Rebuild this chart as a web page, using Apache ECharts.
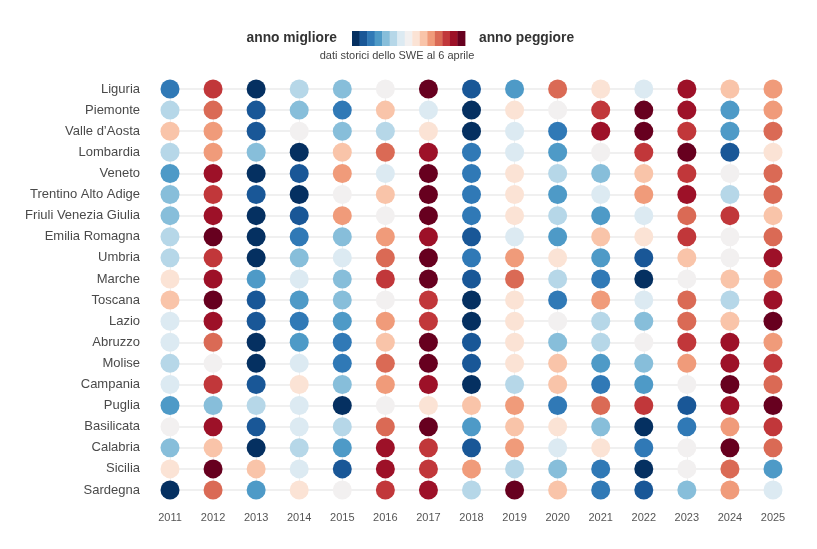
<!DOCTYPE html>
<html>
<head>
<meta charset="utf-8">
<script src="https://cdn.jsdelivr.net/npm/echarts@6/dist/echarts.min.js"></script>
<style>
html,body{margin:0;padding:0;background:#fff;}
#chart{width:817px;height:549px;}
</style>
</head>
<body>
<div id="chart"></div>
<script>
// categories
const years = ['2011','2012','2013','2014','2015','2016','2017','2018','2019','2020','2021','2022','2023','2024','2025'];
const regions = ['Liguria','Piemonte',"Valle d\u2019Aosta",'Lombardia','Veneto','Trentino Alto Adige','Friuli Venezia Giulia','Emilia Romagna','Umbria','Marche','Toscana','Lazio','Abruzzo','Molise','Campania','Puglia','Basilicata','Calabria','Sicilia','Sardegna'];
// rank of each year (1 = anno migliore, 15 = anno peggiore), years 2011..2025
const liguria    = [3,13,1,6,5,8,15,2,4,12,9,7,14,10,11];
const piemonte   = [6,12,2,5,3,10,7,1,9,8,13,15,14,4,11];
const valleAosta = [10,11,2,8,5,6,9,1,7,3,14,15,13,4,12];
const lombardia  = [6,11,5,1,10,12,14,3,7,4,8,13,15,2,9];
const veneto     = [4,14,1,2,11,7,15,3,9,6,5,10,13,8,12];
const trentino   = [5,13,2,1,8,10,15,3,9,4,7,11,14,6,12];
const friuli     = [5,14,1,2,11,8,15,3,9,6,4,7,12,13,10];
const emilia     = [6,15,1,3,5,11,14,2,7,4,10,9,13,8,12];
const umbria     = [6,13,1,5,7,12,15,3,11,9,4,2,10,8,14];
const marche     = [9,14,4,7,5,13,15,2,12,6,3,1,8,10,11];
const toscana    = [10,15,2,4,5,8,13,1,9,3,11,7,12,6,14];
const lazio      = [7,14,2,3,4,11,13,1,9,8,6,5,12,10,15];
const abruzzo    = [7,12,1,4,3,10,15,2,9,5,6,8,13,14,11];
const molise     = [6,8,1,7,3,12,15,2,9,10,4,5,11,14,13];
const campania   = [7,13,2,9,5,11,14,1,6,10,3,4,8,15,12];
const puglia     = [4,5,6,7,1,8,9,10,11,3,12,13,2,14,15];
const basilicata = [8,14,2,7,6,12,15,4,10,9,5,1,3,11,13];
const calabria   = [5,10,1,6,4,14,13,2,11,7,9,3,8,15,12];
const sicilia    = [9,15,10,7,2,14,13,11,6,5,3,1,8,12,4];
const sardegna   = [1,12,4,9,8,13,14,6,15,10,3,2,5,11,7];
const rankRows = [liguria,piemonte,valleAosta,lombardia,veneto,trentino,friuli,emilia,umbria,marche,toscana,lazio,abruzzo,molise,campania,puglia,basilicata,calabria,sicilia,sardegna];
const ranks = [1,2,3,4,5,6,7,8,9,10,11,12,13,14,15];
const legendLow = 'anno migliore';
const legendHigh = 'anno peggiore';
const subtitle = 'dati storici dello SWE al 6 aprile';

const palette = ['#053061','#195797','#3079b6','#4e9ac7','#87beda','#b6d7e8','#dceaf2','#f2f0f0','#fbe3d5','#f9c4a9','#f09b7a','#da6a55','#c1373a','#9d1128','#67001f'];

const data = [];
rankRows.forEach((row, r) => {
  row.forEach((v, y) => data.push([years[y], regions[r], v]));
});

const font = '"Liberation Sans", Arial, sans-serif';

// legend colour bar (graphic)
const barX = 352, barY = 31, stepW = 113 / ranks.length, barH = 15;
const graphics = ranks.map((v, i) => ({
  type: 'rect',
  shape: {x: barX + i * stepW, y: barY, width: stepW + 0.4, height: barH},
  style: {fill: palette[v - 1]},
  silent: true
}));
graphics.push({
  type: 'text', x: 337, y: barY + barH / 2,
  style: {text: legendLow, align: 'right', verticalAlign: 'middle', fontSize: 13.8, fontWeight: 'bold', fill: '#333', fontFamily: font}
});
graphics.push({
  type: 'text', x: 479, y: barY + barH / 2,
  style: {text: legendHigh, align: 'left', verticalAlign: 'middle', fontSize: 13.8, fontWeight: 'bold', fill: '#333', fontFamily: font}
});
graphics.push({
  type: 'text', x: 397, y: 56,
  style: {text: subtitle, align: 'center', verticalAlign: 'middle', fontSize: 11, fill: '#444', fontFamily: font}
});

const chart = echarts.init(document.getElementById('chart'), null, {renderer:'canvas'});
chart.setOption({
  backgroundColor: '#ffffff',
  animation: false,
  textStyle: {fontFamily: font},
  graphic: graphics,
  visualMap: {
    type: 'piecewise',
    show: false,
    dimension: 2,
    seriesIndex: 0,
    pieces: ranks.map(v => ({value: v, color: palette[v-1]}))
  },
  grid: {left: 170, right: 44, top: 89, bottom: 59},
  xAxis: {
    type: 'category', data: years, boundaryGap: false,
    axisLine: {show: false}, axisTick: {show: false},
    axisLabel: {fontSize: 11, color: '#555', margin: 22, fontFamily: font},
    splitLine: {show: true, lineStyle: {color: '#f0f0f0', width: 1}}
  },
  yAxis: {
    type: 'category', data: regions, inverse: true, boundaryGap: false,
    axisLine: {show: false}, axisTick: {show: false},
    axisLabel: {fontSize: 13, color: '#4a4a4a', margin: 30, fontFamily: font},
    splitLine: {show: true, lineStyle: {color: '#ebebeb', width: 1.5}}
  },
  series: [{
    type: 'scatter',
    data: data,
    symbolSize: 19,
    itemStyle: {opacity: 1}
  }]
});
</script>
</body>
</html>
